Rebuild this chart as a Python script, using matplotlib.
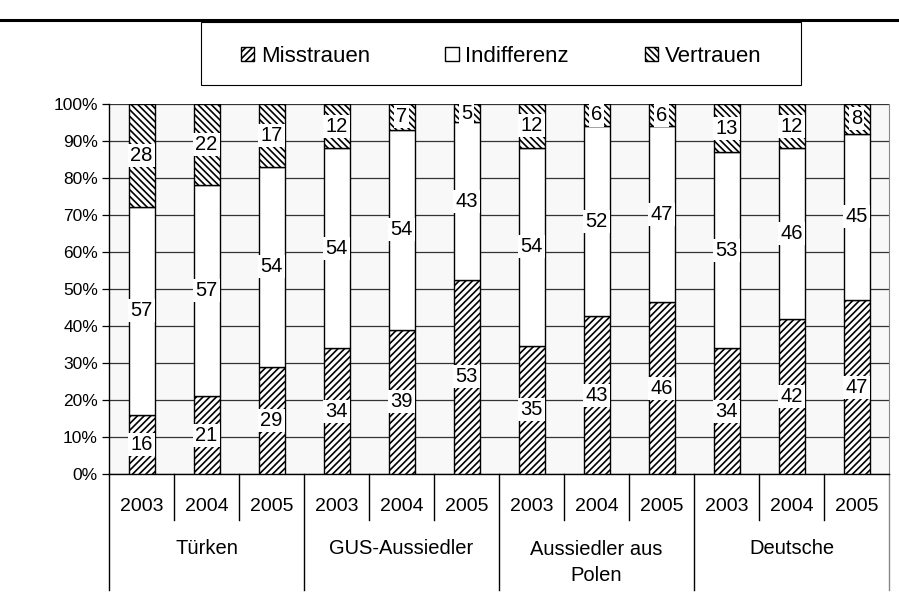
import numpy as np
import matplotlib
matplotlib.use('Agg')
import matplotlib.pyplot as plt
from matplotlib.patches import Rectangle
from matplotlib.lines import Line2D

plt.rcParams['font.family'] = ['Liberation Sans', 'DejaVu Sans']
plt.rcParams['hatch.color'] = 'black'
plt.rcParams['hatch.linewidth'] = 1.2

# ── Data ─────────────────────────────────────────────
groups = ['Türken', 'GUS-Aussiedler', 'Aussiedler aus\nPolen', 'Deutsche']
years = ['2003', '2004', '2005']
misstrauen  = [16, 21, 29, 34, 39, 53, 35, 43, 46, 34, 42, 47]
indifferenz = [57, 57, 54, 54, 54, 43, 54, 52, 47, 53, 46, 45]
vertrauen   = [28, 22, 17, 12, 7, 5, 12, 6, 6, 13, 12, 8]

m = np.array(misstrauen, float)
i = np.array(indifferenz, float)
v = np.array(vertrauen, float)
tot = m + i + v
m_pct, i_pct, v_pct = m / tot * 100, i / tot * 100, v / tot * 100

x = np.arange(len(misstrauen))
W, H = 899, 607

fig = plt.figure(figsize=(W / 100, H / 100), dpi=100)
ax = fig.add_axes([109 / W, 1 - 474 / H, 780 / W, 370 / H])
ax.set_facecolor('#f8f8f8')

bw = 0.4
b1 = ax.bar(x, m_pct, bw, color='white', edgecolor='black', hatch='/////', lw=1, zorder=3)
b2 = ax.bar(x, i_pct, bw, bottom=m_pct, color='white', edgecolor='black', lw=1, zorder=3)
b3 = ax.bar(x, v_pct, bw, bottom=m_pct + i_pct, color='white', edgecolor='black',
            hatch='\\\\\\\\\\', lw=1, zorder=3)

box = dict(boxstyle='square,pad=0.1', fc='white', ec='none')
for cont, vals in [(b1, misstrauen), (b2, indifferenz), (b3, vertrauen)]:
    ax.bar_label(cont, labels=[str(val) for val in vals], label_type='center',
                 fontsize=14.5, bbox=box, zorder=5)

# axes styling
ax.set_xlim(-0.5, len(x) - 0.5)
ax.set_ylim(0, 100)
ax.set_yticks(np.arange(0, 101, 10))
ax.set_yticklabels([f'{t}%' for t in range(0, 101, 10)], fontsize=12.5)
ax.yaxis.grid(True, color='#333333', lw=0.9, zorder=1)
ax.tick_params(axis='y', length=5, width=0.9, pad=3)
ax.set_xticks([])
ax.spines['top'].set_visible(False)
ax.spines['right'].set_color('#888888')
ax.spines['left'].set_linewidth(1)
ax.spines['bottom'].set_linewidth(1)

# two-level category axis
tr = ax.get_xaxis_transform()
for k in range(len(x)):
    ax.text(k, -0.089, years[k % 3], transform=tr, ha='center', va='center', fontsize=14)
for k in range(len(x) + 1):
    xb = k - 0.5
    low = -0.314 if k % 3 == 0 else -0.124
    col = '#888888' if k == len(x) else 'black'
    ax.plot([xb, xb], [0, low], transform=tr, color=col, lw=1, clip_on=False)
for g, name in enumerate(groups):
    ypos = -0.239 if '\n' in name else -0.2
    ax.text(g * 3 + 1, ypos, name, transform=tr, ha='center', va='center',
            fontsize=14.5, linespacing=1.45)

# legend
fig.legend([b1, b2, b3], ['Misstrauen', 'Indifferenz', 'Vertrauen'], ncol=3,
           frameon=False, loc='center', bbox_to_anchor=(501 / W, 1 - 56 / H),
           fontsize=16, handlelength=0.6, handleheight=0.6, handletextpad=0.3,
           columnspacing=3.4)
fig.add_artist(Rectangle((201 / W, 1 - 85 / H), 600 / W, 63 / H, transform=fig.transFigure,
                         fill=False, ec='black', lw=0.8))
fig.add_artist(Line2D([0, 1], [1 - 19.5 / H, 1 - 19.5 / H], transform=fig.transFigure,
                      color='black', lw=2.2))

fig.savefig('out.png', dpi=100)
